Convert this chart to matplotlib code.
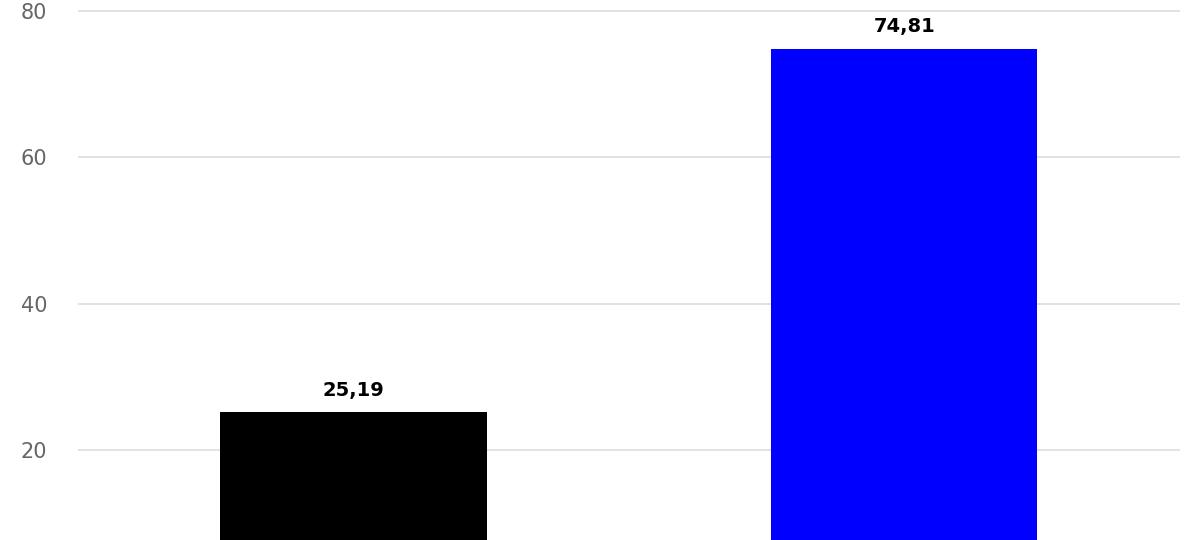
import matplotlib.pyplot as plt

categories = ["A", "B"]
values = [25.19, 74.81]
colors = ["#000000", "#0000ff"]
labels = ["25,19", "74,81"]

fig = plt.figure(figsize=(12, 5.4), dpi=100)
ax = fig.add_axes([0.065, 0.0, 0.918, 1.0])

x = range(len(categories))
bars = ax.bar(x, values, width=0.484, color=colors, zorder=2)

for bar, lab in zip(bars, labels):
    ax.annotate(lab, (bar.get_x() + bar.get_width() / 2, bar.get_height()),
                xytext=(0, 9), textcoords="offset points",
                ha="center", va="bottom", fontsize=14, fontweight="bold",
                color="#000000")

ax.set_xlim(-0.5, 1.5)
ax.set_ylim(7.7, 81.5)
ax.set_yticks([20, 40, 60, 80])
ax.set_xticks([])
ax.grid(axis="y", color="#dddddd", linewidth=1.2, zorder=0)
ax.tick_params(axis="y", length=0, pad=22, labelsize=15, labelcolor="#666666")
for s in ax.spines.values():
    s.set_visible(False)

fig.savefig("out.png", dpi=100)
